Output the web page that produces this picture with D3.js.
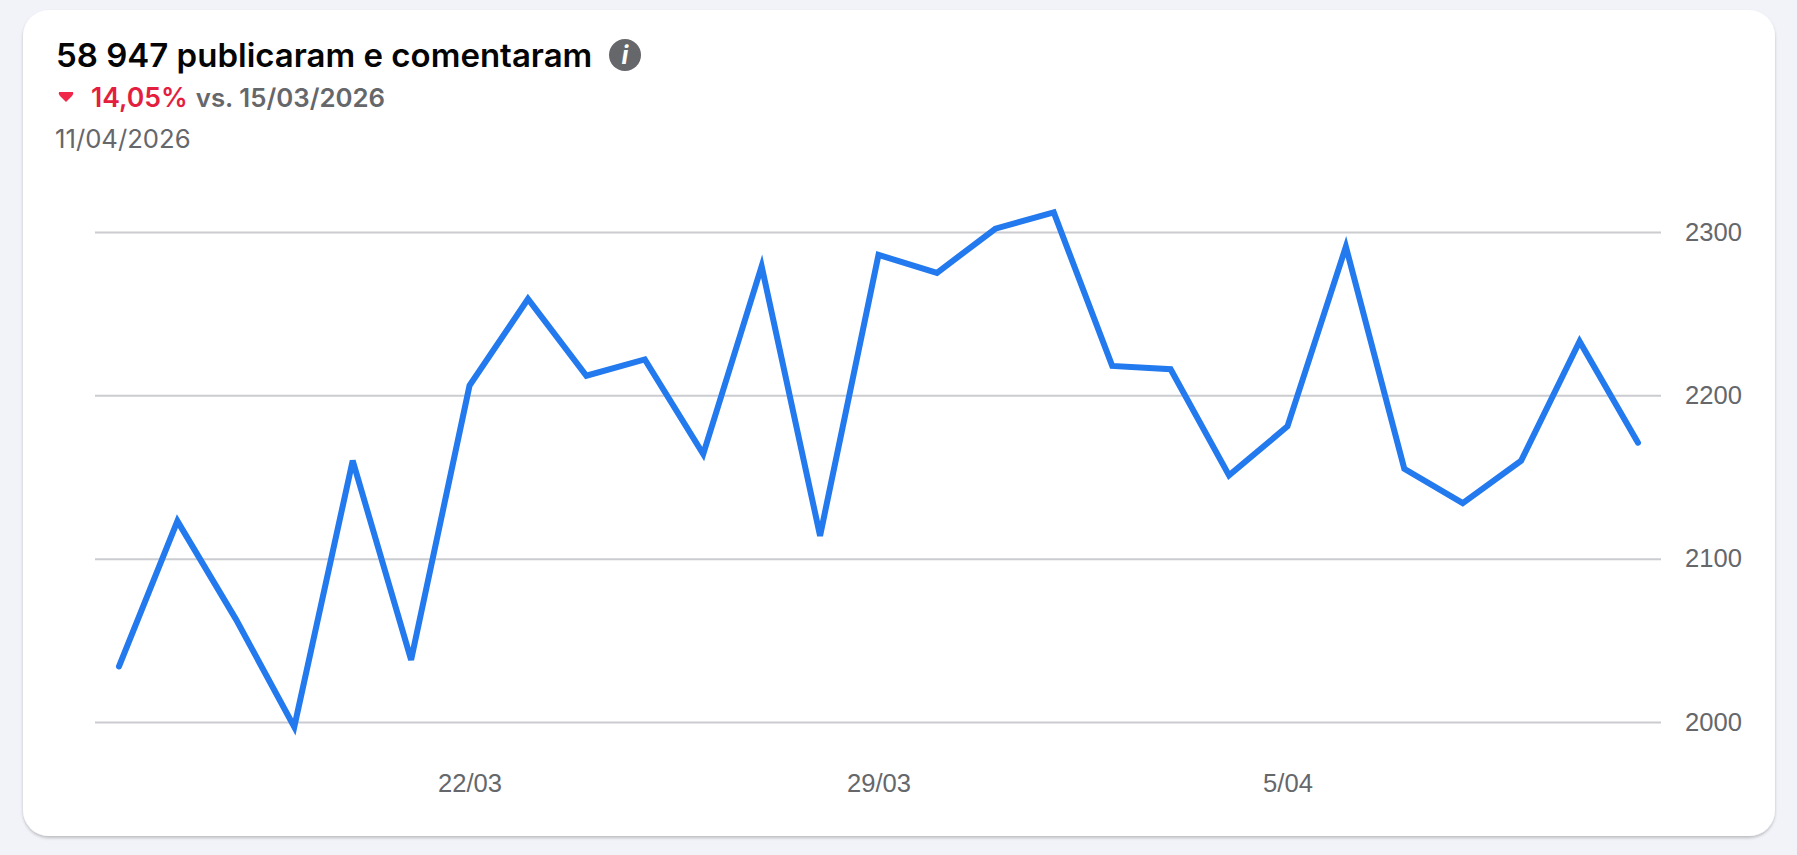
<!DOCTYPE html>
<html><head><meta charset="utf-8">
<script src="https://cdn.jsdelivr.net/npm/d3@7"></script>
<style>
html,body{margin:0;padding:0;background:#f1f3f8;width:1797px;height:855px;overflow:hidden}
svg{display:block}
text{font-family:Inter,"Liberation Sans",sans-serif}
.tick text{font-family:"Liberation Sans",sans-serif}
</style></head><body>
<svg id="c" width="1797" height="855"></svg>
<script>
const dates=["16/03","17/03","18/03","19/03","20/03","21/03","22/03","23/03","24/03","25/03","26/03","27/03","28/03","29/03","30/03","31/03","1/04","2/04","3/04","4/04","5/04","6/04","7/04","8/04","9/04","10/04","11/04"];
const values=[2034,2123,2063,1997,2160,2038,2206,2259,2212,2222,2164,2279,2114,2286,2275,2302,2312,2218,2216,2151,2181,2291,2155,2134,2160,2233,2171];
const yTicks=[2000,2100,2200,2300];
const xTicks=["22/03","29/03","5/04"];
const svg=d3.select("#c");
const defs=svg.append("defs");
const f=defs.append("filter").attr("id","sh").attr("x","-5%").attr("y","-5%").attr("width","110%").attr("height","110%");
f.append("feDropShadow").attr("dx",0).attr("dy",2).attr("stdDeviation",1.5).attr("flood-color","#000").attr("flood-opacity",0.22);
svg.append("rect").attr("x",23).attr("y",10).attr("width",1752).attr("height",826).attr("rx",26).attr("fill","#fff").attr("filter","url(#sh)");
const x=d3.scalePoint().domain(dates).range([119,1638]);
const y=d3.scaleLinear().domain([2000,2300]).range([722,232]);
const gy=svg.append("g").attr("transform","translate(1661,0)").call(d3.axisLeft(y).tickValues(yTicks).tickFormat(d3.format("d")).tickSize(1566).tickPadding(0));
gy.select(".domain").remove();
gy.selectAll(".tick line").attr("stroke","#cbccd0").attr("stroke-width",2);
gy.selectAll(".tick text").attr("x",24).attr("text-anchor","start").attr("fill","#65676b").attr("font-size",25.6);
const gx=svg.append("g").attr("transform","translate(0,774)").call(d3.axisBottom(x).tickValues(xTicks).tickSize(0).tickPadding(0));
gx.select(".domain").remove();
gx.selectAll(".tick text").attr("fill","#65676b").attr("font-size",25.6).attr("dy","0.71em");
svg.append("path").datum(values).attr("fill","none").attr("stroke","#2379ee").attr("stroke-width",6).attr("stroke-linecap","round").attr("stroke-linejoin","miter")
 .attr("d",d3.line().x((d,i)=>x(dates[i])).y(d=>y(d)));
svg.append("text").attr("x",56).attr("y",67).attr("font-size",33).attr("font-weight",600).attr("fill","#050505").text("58 947 publicaram e comentaram");
svg.append("circle").attr("cx",625).attr("cy",55).attr("r",16).attr("fill","#65676b");
svg.append("text").attr("x",625).attr("y",64).attr("text-anchor","middle").attr("font-size",25).attr("font-style","italic").attr("font-weight",700).attr("font-family","Liberation Serif").attr("fill","#fff").text("i");
svg.append("path").attr("d","M59 92 L73 92 Q74 94 72 96 L66 102 L60 96 Q58 94 59 92Z").attr("fill","#f02849");
const t=svg.append("text").attr("x",91).attr("y",107).attr("font-weight",600);
t.append("tspan").attr("fill","#e41e3f").attr("font-size",26.6).text("14,05%");
t.append("tspan").attr("fill","#65676b").attr("font-size",25.8).attr("dx",8).text("vs. 15/03/2026");
svg.append("text").attr("x",55).attr("y",148).attr("font-size",25.7).attr("fill","#65676b").text("11/04/2026");
</script></body></html>
